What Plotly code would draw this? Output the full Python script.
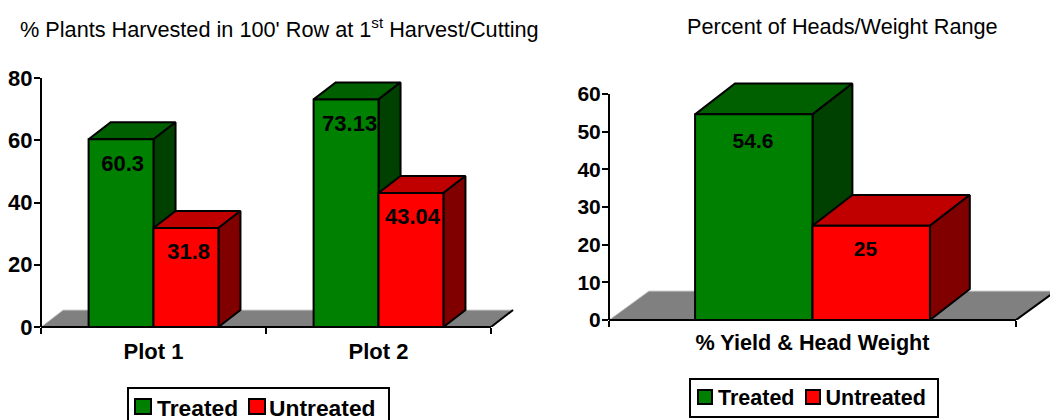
import plotly.graph_objects as go

# ---------- data ----------
left_categories = ["Plot 1", "Plot 2"]
left_treated = [60.3, 73.13]
left_untreated = [31.8, 43.04]
right_categories = ["% Yield & Head Weight"]
right_treated = [54.6]
right_untreated = [25]
left_ticks = [0, 20, 40, 60, 80]
right_ticks = [0, 10, 20, 30, 40, 50, 60]
series_names = ["Treated", "Untreated"]
left_title = "% Plants Harvested in 100' Row at 1<sup>st</sup> Harvest/Cutting"
right_title = "Percent of Heads/Weight Range"

# ---------- style ----------
W, H = 1050, 420
FONT = "Liberation Sans, Arial, sans-serif"
GREEN = ("#008000", "#006000", "#004000")
RED = ("#ff0000", "#c00000", "#800000")
EDGE = dict(color="black", width=2)
BAR_W = 0.2885
FLOOR = "#808080"

fig = go.Figure()


def poly(rects):
    xs, ys = [], []
    for r in rects:
        xs += [p[0] for p in r] + [r[0][0], None]
        ys += [p[1] for p in r] + [r[0][1], None]
    return xs, ys


def add_area(xs, ys, color, z, ax):
    fig.add_trace(go.Scatter(x=xs, y=ys, mode="lines", fill="toself", fillcolor=color,
                             line=EDGE, hoverinfo="skip", showlegend=False,
                             zorder=z, xaxis=ax[0], yaxis=ax[1]))


def chart(n, treated, untreated, dx, dy, floor_dy, label_dy, label_dx, ax, size):
    xpos = list(range(n))
    fx = [-0.5, -0.5 + dx, n - 0.5 + dx, n - 0.5, -0.5]
    fy = [0, floor_dy, floor_dy, 0, 0]
    fig.add_trace(go.Scatter(x=fx, y=fy, mode="lines", fill="toself", fillcolor=FLOOR,
                             line=dict(color="#d0d0d0", width=1),
                             hoverinfo="skip", showlegend=False, zorder=0, xaxis=ax[0], yaxis=ax[1]))
    fig.add_trace(go.Scatter(x=[n - 0.5, n - 0.5 + dx], y=[0, floor_dy], mode="lines",
                             line=dict(color="black", width=2),
                             hoverinfo="skip", showlegend=False, zorder=0, xaxis=ax[0], yaxis=ax[1]))
    for s, (vals, cols, off) in enumerate(((treated, GREEN, -BAR_W), (untreated, RED, 0))):
        z = 1 + s * 2
        tops, sides = [], []
        for x, v in zip(xpos, vals):
            a = x + off
            b = a + BAR_W
            tops.append([(a, v), (a + dx, v + dy), (b + dx, v + dy), (b, v)])
            sides.append([(b, 0), (b + dx, dy), (b + dx, v + dy), (b, v)])
        add_area(*poly(tops), cols[1], z, ax)
        add_area(*poly(sides), cols[2], z, ax)
        fig.add_trace(go.Bar(x=xpos, y=vals, width=BAR_W, offset=off, marker_color=cols[0],
                             marker_line=EDGE, hoverinfo="skip", showlegend=False,
                             zorder=z + 1, xaxis=ax[0], yaxis=ax[1]))
    for s, (vals, off) in enumerate(((treated, -BAR_W / 2), (untreated, BAR_W / 2))):
        fig.add_trace(go.Scatter(
            x=[x + off + d for x, d in zip(xpos, label_dx[s])],
            y=[v - label_dy[s] for v in vals], mode="text", text=[str(v) for v in vals],
            textposition="middle center",
            textfont=dict(family=FONT, size=size, color="black", weight="bold"),
            hoverinfo="skip", showlegend=False, zorder=6,
            xaxis=ax[0], yaxis=ax[1]))


# marks live on hidden axes x,y / x2,y2 whose scale equals the visible axes x3,y3 / x4,y4
chart(2, left_treated, left_untreated, 0.098, 5.46, 5.46, [8.4, 8.2],
      [[0.007, 0.016], [0.012, 0.007]], ("x", "y"), 22)
chart(1, right_treated, right_untreated, 0.098, 8.2, 7.7, [7.6, 6.7],
      [[-0.002], [-0.014]], ("x2", "y2"), 21)

# legend entries (text) and visible-axis anchors
for lg, ax, ax2 in (("legend", ("x", "y"), ("x3", "y3")), ("legend2", ("x2", "y2"), ("x4", "y4"))):
    for name, cols in zip(series_names, (GREEN, RED)):
        fig.add_trace(go.Scatter(x=[None], y=[None], mode="markers", name=name,
                                 marker=dict(symbol="square", size=1, color="rgba(0,0,0,0)"),
                                 legend=lg, xaxis=ax[0], yaxis=ax[1], hoverinfo="skip"))
    fig.add_trace(go.Scatter(x=[0], y=[0], mode="markers", marker=dict(opacity=0, size=1),
                             hoverinfo="skip", showlegend=False, xaxis=ax2[0], yaxis=ax2[1]))


def xaxis(x0, x1, n, labels, anchor, size, standoff):
    return dict(domain=[x0 / W, x1 / W], range=[-0.5, n - 0.5], anchor=anchor, showgrid=False, zeroline=False,
                showline=False,
                tickmode="array", tickvals=list(range(n)), ticktext=labels, ticks="", ticklabelstandoff=standoff,
                tickfont=dict(family=FONT, size=size, color="black", weight="bold"),
                minor=dict(tickmode="array", tickvals=[i - 0.5 for i in range(n + 1)], ticks="outside",
                           ticklen=6, tickwidth=2, tickcolor="black", showgrid=False))


def yaxis(y0, y1, ymax, vals, anchor, size):
    return dict(domain=[1 - y0 / H, 1 - y1 / H], range=[0, ymax], anchor=anchor, showgrid=False, zeroline=False,
                showline=False, tickmode="array", tickvals=vals,
                ticks="outside", ticklen=6, tickwidth=2, tickcolor="black", ticklabelstandoff=-3,
                tickfont=dict(family=FONT, size=size, color="black", weight="bold"))


def hidden_x(x0, x1, xend, n, anchor):
    scale = (x1 - x0) / n
    return dict(domain=[x0 / W, xend / W], range=[-0.5, -0.5 + (xend - x0) / scale], anchor=anchor, visible=False)


def hidden_y(y0, y1, ytop, ymax, anchor):
    scale = (y0 - y1) / ymax
    return dict(domain=[1 - y0 / H, 1 - ytop / H], range=[0, (y0 - ytop) / scale], anchor=anchor, visible=False)


def legend(x, y, size):
    return dict(x=x / W, y=1 - y / H, xanchor="left", yanchor="top", orientation="h",
                borderwidth=0, bgcolor="rgba(0,0,0,0)", indentation=-14,
                font=dict(family=FONT, size=size, color="black", weight="bold"),
                traceorder="normal", itemclick=False, itemdoubleclick=False)


def title(text, cx, cy):
    return dict(text=text, x=cx / W, y=1 - cy / H, xref="paper", yref="paper", showarrow=False,
                xanchor="center", yanchor="middle", font=dict(family=FONT, size=21.7, color="black"))


def axis_lines(x0, x1, y0, y1):
    base = dict(type="line", xref="paper", yref="paper", line=dict(color="black", width=2), layer="above")
    return [dict(base, x0=x0 / W, x1=x0 / W, y0=1 - y0 / H, y1=1 - y1 / H),
            dict(base, x0=x0 / W, x1=x1 / W, y0=1 - y0 / H, y1=1 - y0 / H)]


def box(x0, y0, x1, y1, fill="rgba(0,0,0,0)"):
    return dict(type="rect", xref="paper", yref="paper", x0=x0 / W, x1=x1 / W, y0=1 - y0 / H, y1=1 - y1 / H,
                line=dict(color="black", width=2), fillcolor=fill, layer="above")


fig.update_layout(
    width=W, height=H, autosize=False, paper_bgcolor="white", plot_bgcolor="rgba(0,0,0,0)",
    margin=dict(l=0, r=0, t=0, b=0, autoexpand=False), barmode="overlay",
    xaxis=hidden_x(41, 491, 530, 2, "y"),
    yaxis=hidden_y(327, 78, 60, 80, "x"),
    xaxis2=hidden_x(609, 1016, 1050, 1, "y2"),
    yaxis2=hidden_y(320, 94, 70, 60, "x2"),
    xaxis3=xaxis(41, 491, 2, left_categories, "y3", 22, 9),
    yaxis3=yaxis(327, 78, 80, left_ticks, "x3", 22),
    xaxis4=xaxis(609, 1016, 1, right_categories, "y4", 21.65, 7),
    yaxis4=yaxis(320, 94, 60, right_ticks, "x4", 21),
    legend=legend(131, 385.5, 22.8), legend2=legend(692, 376, 21.5),
    annotations=[title(left_title, 279, 28), title(right_title, 842, 27)],
    shapes=axis_lines(41, 491, 327, 78) + axis_lines(609, 1016, 320, 94)
    + [box(128, 388, 389, 422), box(690, 379, 938, 417),
       box(135, 399, 151, 414, GREEN[0]), box(249, 399, 265, 414, RED[0]),
       box(698, 390, 712, 404, GREEN[0]), box(806, 390, 820, 404, RED[0])],
)

fig.write_html("out.html", config={"displayModeBar": False},
               post_script="document.body.style.margin='0';document.body.style.overflow='hidden';")
